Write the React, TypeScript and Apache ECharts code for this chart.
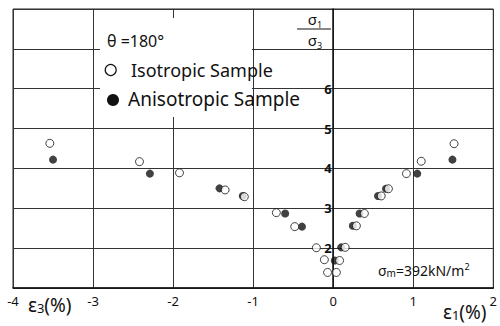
import React, { useEffect, useRef } from "react";
import * as echarts from "echarts";

// Isotropic sample (open circles): x = strain (%), y = sigma1/sigma3
const isoX = [-3.54, -2.42, -1.92, -1.35, -1.11, -0.71, -0.48, -0.21, -0.11, -0.07, 0.04, 0.08, 0.15, 0.29, 0.39, 0.6, 0.69, 0.915, 1.1, 1.51];
const isoY = [4.63, 4.17, 3.89, 3.46, 3.29, 2.89, 2.54, 2.01, 1.71, 1.39, 1.39, 1.69, 2.02, 2.56, 2.87, 3.31, 3.49, 3.87, 4.18, 4.62];
// Anisotropic sample (filled circles)
const aniX = [-3.5, -2.29, -1.42, -1.13, -0.6, -0.39, 0.02, 0.1, 0.245, 0.33, 0.56, 0.66, 1.05, 1.49];
const aniY = [4.22, 3.87, 3.5, 3.31, 2.87, 2.54, 1.69, 2.02, 2.56, 2.87, 3.31, 3.49, 3.87, 4.22];

const xTickValues = [-4, -3, -2, -1, 0, 1, 2];
const yTickLabels = [2, 3, 4, 5, 6];

const FONT = "'Noto Sans', sans-serif";
const W = 500;
const H = 326;
const GRID = { left: 13, right: 3, top: 9, bottom: 38 };

export default function App() {
  const ref = useRef<HTMLDivElement>(null);
  useEffect(() => {
    if (!ref.current) return;
    const chart = echarts.init(ref.current, undefined, { renderer: "svg" });
    const iso = isoX.map((x, i) => [x, isoY[i]]);
    const ani = aniX.map((x, i) => [x, aniY[i]]);
    const xMin = xTickValues[0];
    const xMax = xTickValues[xTickValues.length - 1];
    // labels of the y axis sit next to x = 0
    const zeroOffset = -((0 - xMin) / (xMax - xMin)) * (W - GRID.left - GRID.right);
    const fracRich = {
      a: { fontSize: 15, fontFamily: FONT, fill: "#111", lineHeight: 21 },
      s: { fontSize: 9, fontFamily: FONT, fill: "#111", lineHeight: 21, verticalAlign: "bottom" },
    };
    chart.setOption({
      animation: false,
      backgroundColor: "#fff",
      textStyle: { fontFamily: FONT },
      grid: { ...GRID, show: true, borderColor: "#222", borderWidth: 1 },
      xAxis: {
        type: "value",
        min: xMin,
        max: xMax,
        interval: 1,
        axisLine: { show: true, onZero: false, lineStyle: { color: "#111", width: 1.5 } },
        axisTick: { show: false },
        axisLabel: { show: true, showMinLabel: true, showMaxLabel: true, fontSize: 13, color: "#111", margin: 6, fontFamily: FONT },
        splitLine: { show: true, lineStyle: { color: "#333", width: 1 } },
      },
      yAxis: [
        {
          type: "value",
          min: 1,
          max: 8,
          interval: 1,
          axisLine: { show: true, onZero: true, lineStyle: { color: "#111", width: 1.5 } },
          axisTick: { show: false },
          axisLabel: { show: false },
          splitLine: { show: true, lineStyle: { color: "#333", width: 1 } },
        },
        {
          type: "value",
          min: 1,
          max: 8,
          interval: 1,
          position: "left",
          offset: zeroOffset,
          axisLine: { show: false },
          axisTick: { show: false },
          splitLine: { show: false },
          axisLabel: {
            show: true,
            fontSize: 13,
            fontWeight: "bold",
            color: "#111",
            margin: 4,
            fontFamily: FONT,
            formatter: (v: number) => (yTickLabels.includes(v) ? String(v) : ""),
          },
        },
      ],
      graphic: [
        { type: "rect", z: 1, shape: { x: 100, y: 18, width: 152, height: 99 }, style: { fill: "#fff" } },
        { type: "text", z: 3, x: 107, y: 41, style: { text: "θ =180°", fontSize: 16, fontFamily: FONT, fill: "#111", verticalAlign: "middle" } },
        { type: "circle", z: 3, shape: { cx: 110.7, cy: 70, r: 5.5 }, style: { fill: "#fff", stroke: "#111", lineWidth: 1.2 } },
        { type: "text", z: 3, x: 131, y: 70, style: { text: "Isotropic Sample", fontSize: 18, fontFamily: FONT, fill: "#111", verticalAlign: "middle" } },
        { type: "circle", z: 3, shape: { cx: 113, cy: 100, r: 6 }, style: { fill: "#111" } },
        { type: "text", z: 3, x: 128, y: 99, style: { text: "Anisotropic Sample", fontSize: 19, fontFamily: FONT, fill: "#111", verticalAlign: "middle" } },
        { type: "text", z: 3, x: 315, y: 29, style: { text: "{a|σ}{s|1}\n{a|σ}{s|3}", align: "center", verticalAlign: "middle", rich: fracRich } },
        { type: "line", z: 4, shape: { x1: 297, y1: 29, x2: 331, y2: 29 }, style: { stroke: "#111", lineWidth: 1 } },
        {
          type: "text", z: 3, x: 378, y: 270,
          style: {
            text: "{a|σ}{s|m}{a|=392kN/m}{p|2}", verticalAlign: "middle",
            rich: {
              a: { fontSize: 14, fontFamily: FONT, fill: "#111" },
              s: { fontSize: 10, fontFamily: FONT, fill: "#111", padding: [6, 0, 0, 0] },
              p: { fontSize: 9, fontFamily: FONT, fill: "#111", padding: [0, 0, 8, 0] },
            },
          },
        },
        {
          type: "text", z: 3, x: 28, y: 305,
          style: {
            text: "{a|ε}{s|3}{a|(%)}", verticalAlign: "middle",
            rich: { a: { fontSize: 19, fontFamily: FONT, fill: "#111" }, s: { fontSize: 13, fontFamily: FONT, fill: "#111", padding: [5, 0, 0, 0] } },
          },
        },
        {
          type: "text", z: 3, x: 443, y: 312,
          style: {
            text: "{a|ε}{s|1}{a|(%)}", verticalAlign: "middle",
            rich: { a: { fontSize: 19, fontFamily: FONT, fill: "#111" }, s: { fontSize: 13, fontFamily: FONT, fill: "#111", padding: [5, 0, 0, 0] } },
          },
        },
      ],
      series: [
        {
          name: "Anisotropic Sample",
          type: "scatter",
          data: ani,
          symbol: "circle",
          symbolSize: 8,
          z: 4,
          itemStyle: { color: "#111" },
        },
        {
          name: "Isotropic Sample",
          type: "scatter",
          data: iso,
          symbol: "circle",
          symbolSize: 8,
          z: 5,
          itemStyle: { color: "#fff", borderColor: "#111", borderWidth: 1 },
        },
      ],
    });
    return () => chart.dispose();
  }, []);
  return <div ref={ref} style={{ width: W, height: H, position: "absolute", left: 0, top: 0 }} />;
}
